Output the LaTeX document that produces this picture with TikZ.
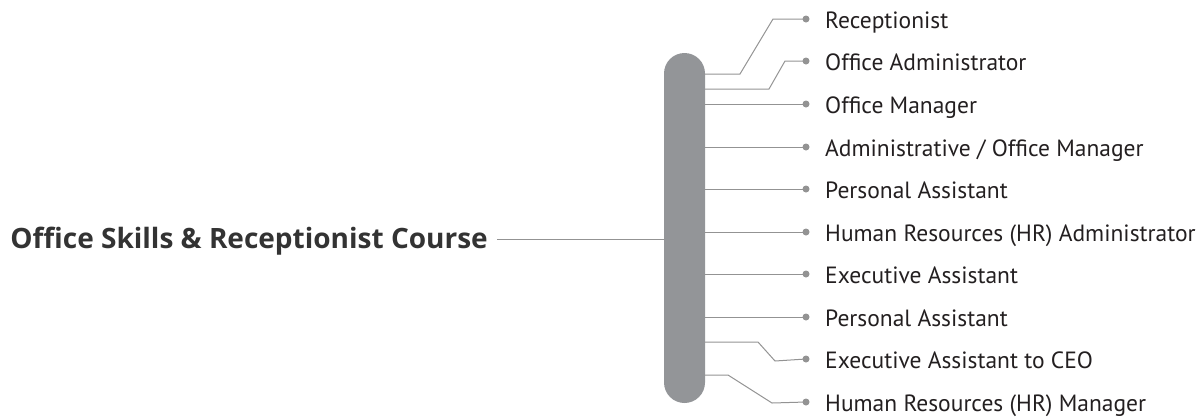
\documentclass[tikz,border=0pt]{standalone}
\usepackage{fontspec}
\setmainfont{PT Sans}
\newfontfamily\titlefont{Open Sans}
\definecolor{bargray}{HTML}{939598}
\definecolor{linegray}{HTML}{939393}
\definecolor{txt}{HTML}{231F20}
\definecolor{ttl}{HTML}{333333}
\begin{document}
\begin{tikzpicture}[x=1pt,y=-1pt,
  conn/.style={draw=linegray,line width=1pt},
  dotnode/.style={circle,fill=linegray,inner sep=0pt,minimum size=7pt},
  lbl/.style={anchor=base west,inner sep=0pt,text=txt,font=\fontsize{23.5}{28}\selectfont}]
\useasboundingbox (0,0) rectangle (1200,416);
\fill[bargray,rounded corners=20.5pt] (664,53) rectangle (705,403);
\node[inner sep=0pt,minimum width=41pt,minimum height=350pt] (bar) at (684.5,228) {};
\node[anchor=base east,inner sep=0pt,text=ttl,font=\titlefont\bfseries\fontsize{28}{34}\selectfont] (title) at (488,248) {Office Skills \& Receptionist Course};
\coordinate (tin) at (664,239);
\coordinate (tout) at (497,239);
\draw[conn] (tout) -- (tin);
% rows
\foreach \i/\y/\t in {1/19/{Receptionist},2/61/{Office Administrator},3/104/{Office Manager},4/147/{Administrative / Office Manager},5/189/{Personal Assistant},6/232/{Human Resources (HR) Administrator},7/274/{Executive Assistant},8/317/{Personal Assistant},9/359/{Executive Assistant to CEO},10/402/{Human Resources (HR) Manager}}{
  \node[dotnode] (d\i) at (806,\y) {};
  \node[lbl] (l\i) at (825,\y+9.5) {\t};
}
\coordinate (b1) at (705,74);
\coordinate (b2) at (705,89);
\coordinate (b3) at (705,104);
\coordinate (b4) at (705,147);
\coordinate (b5) at (705,189);
\coordinate (b6) at (705,232);
\coordinate (b7) at (705,274);
\coordinate (b8) at (705,317);
\coordinate (b9) at (705,342);
\coordinate (b10) at (705,375);
\draw[conn] (b1) -- (740,74) -- (773,19) -- (d1.center);
\draw[conn] (b2) -- (769,89) -- (785,61) -- (d2.center);
\draw[conn] (b3) -- (d3.center);
\draw[conn] (b4) -- (d4.center);
\draw[conn] (b5) -- (d5.center);
\draw[conn] (b6) -- (d6.center);
\draw[conn] (b7) -- (d7.center);
\draw[conn] (b8) -- (d8.center);
\draw[conn] (b9) -- (758,342) -- (775,361) -- (d9.center);
\draw[conn] (b10) -- (728,375) -- (772,403) -- (d10.center);
\end{tikzpicture}
\end{document}
